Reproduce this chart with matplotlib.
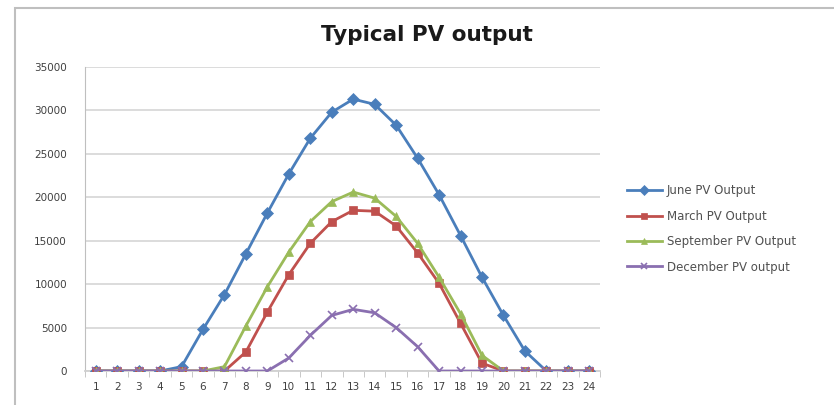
import matplotlib
matplotlib.use("Agg")
from matplotlib import pyplot as plt
from matplotlib.patches import Rectangle
import numpy as np

hours = list(range(1, 25))
june = [0, 0, 0, 0, 500, 4800, 8800, 13500, 18200, 22700, 26800, 29800, 31300, 30700,
        28300, 24500, 20300, 15600, 10800, 6400, 2300, 0, 0, 0]
march = [0, 0, 0, 0, 0, 0, 0, 2200, 6800, 11100, 14700, 17200, 18500, 18400,
         16700, 13600, 10100, 5500, 900, 0, 0, 0, 0, 0]
september = [0, 0, 0, 0, 0, 0, 500, 5200, 9700, 13700, 17200, 19500, 20600, 19900,
             17800, 14700, 10800, 6600, 1800, 0, 0, 0, 0, 0]
december = [0, 0, 0, 0, 0, 0, 0, 0, 0, 1500, 4100, 6400, 7100, 6700,
            5000, 2800, 0, 0, 0, 0, 0, 0, 0, 0]

series = [
    ("June PV Output", june, "#4A7EBB", "D"),
    ("March PV Output", march, "#C0504D", "s"),
    ("September PV Output", september, "#9BBB59", "^"),
    ("December PV output", december, "#8A6FB0", "x"),
]

fig = plt.figure(figsize=(8.34, 4.05), dpi=100)
# chart border (cropped excel chart)
fig.patches.append(Rectangle((15 / 834, -0.1), 1.2, 1 - 8 / 405 + 0.1,
                             transform=fig.transFigure, fill=False,
                             edgecolor="#bfbfbf", linewidth=1.5))

ax = fig.add_axes([85 / 834, 1 - 371 / 405, 515 / 834, 304 / 405])
x = np.arange(len(hours))
for name, vals, col, mk in series:
    ax.plot(x, vals, color=col, linewidth=2, marker=mk, markersize=6,
            markeredgewidth=1.2 if mk == "x" else 0.5, label=name, zorder=3)

ax.set_xlim(-0.5, len(hours) - 0.5)
ax.set_ylim(0, 35000)
ax.set_yticks(np.arange(0, 35001, 5000))
ax.set_xticks(x)
ax.set_xticklabels([str(h) for h in hours])
ax.set_xticks(np.arange(-0.5, len(hours), 1), minor=True)
ax.tick_params(axis="x", which="major", length=0, labelsize=7.5, colors="#404040", pad=8)
ax.tick_params(axis="x", which="minor", length=4, color="#bfbfbf", direction="out")
ax.tick_params(axis="y", length=0, labelsize=7.5, colors="#404040", pad=13)
ax.grid(axis="y", color="#d9d9d9", linewidth=1.3)
ax.set_axisbelow(True)
for s in ["top", "right"]:
    ax.spines[s].set_visible(False)
ax.spines["left"].set_color("#bfbfbf")
ax.spines["bottom"].set_color("#d0d0d0")
ax.spines["bottom"].set_linewidth(1.3)

fig.text(427 / 834, 1 - 35 / 405, "Typical PV output", ha="center", va="center",
         fontsize=15.5, fontweight="bold", color="#1a1a1a")

fig.legend(loc="center left", bbox_to_anchor=(616 / 834, 1 - 229 / 405),
           frameon=False, fontsize=8.5, labelcolor="#505050", handlelength=3.0,
           labelspacing=1.05, handletextpad=0.4, markerscale=0.8)

fig.savefig("out.png", dpi=100)
